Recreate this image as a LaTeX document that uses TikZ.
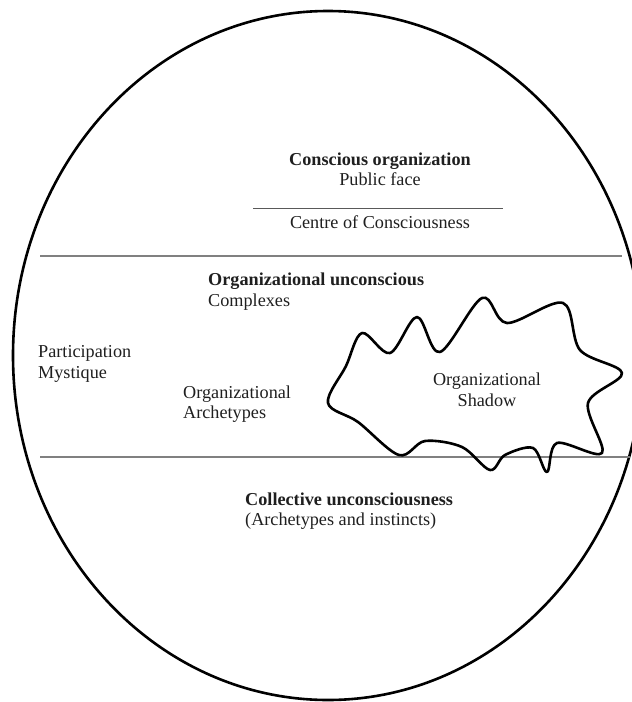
\documentclass[tikz,border=0pt]{standalone}
\usepackage{fontspec}
\setmainfont{Liberation Serif}
\begin{document}
\begin{tikzpicture}[x=1pt,y=-1pt,
  txt/.style={inner sep=0pt, text=black!88, font=\fontsize{18.2}{20}\selectfont},
  hd/.style={txt, font=\fontsize{18.2}{20}\selectfont\bfseries},
  rim/.style={line width=2.6pt, black},
  layerline/.style={draw=black!50, line width=1.8pt},
  subline/.style={draw=black!65, line width=1.4pt},
  shadowline/.style={draw=black, line width=2.6pt, line join=round}]

\useasboundingbox (0,0) rectangle (632,702);
\clip (0,0) rectangle (632,702);

% the psyche as a whole
\draw[rim] (328,355.5) ellipse [x radius=315pt, y radius=344.5pt];

% boundaries between the layers
\coordinate (upL) at (40,256);
\coordinate (upR) at (622,256);
\coordinate (loL) at (40,457);
\coordinate (loR) at (630,457);
\draw[layerline] (upL) -- (upR);
\draw[layerline] (loL) -- (loR);

% line under the public face
\coordinate (faceL) at (253,208.5);
\coordinate (faceR) at (503,208.5);
\draw[subline] (faceL) -- (faceR);

% organizational shadow
\draw[shadowline] plot[smooth cycle, tension=0.55] coordinates {
  (328,403) (346,366) (362,333) (390,353) (417,317) (440,352)
  (482,298) (507,323) (563,303) (580,350) (622,373) (588,403)
  (602,453) (557,443) (547,472) (533,448) (505,455) (490,470)
  (462,447) (425,441) (399,455) (358,422)};

% conscious layer
\node[hd, anchor=base] (co) at (380,165) {Conscious organization};
\node[txt, anchor=base] (pf) at (380,185) {Public face};
\node[txt, anchor=base] (cc) at (380,228) {Centre of Consciousness};

% organizational unconscious
\node[hd, anchor=base west] (ou) at (208,285) {Organizational unconscious};
\node[txt, anchor=base west] (cx) at (208,306) {Complexes};
\node[txt, anchor=base west] (pm1) at (38,357) {Participation};
\node[txt, anchor=base west] (pm2) at (38,378) {Mystique};
\node[txt, anchor=base west] (oa1) at (183,398) {Organizational};
\node[txt, anchor=base west] (oa2) at (183,418) {Archetypes};
\node[txt, anchor=base] (os1) at (487,385) {Organizational};
\node[txt, anchor=base] (os2) at (487,406) {Shadow};

% collective layer
\node[hd, anchor=base west] (cu) at (245,505) {Collective unconsciousness};
\node[txt, anchor=base west] (ai) at (245,525) {(Archetypes and instincts)};
\end{tikzpicture}
\end{document}
